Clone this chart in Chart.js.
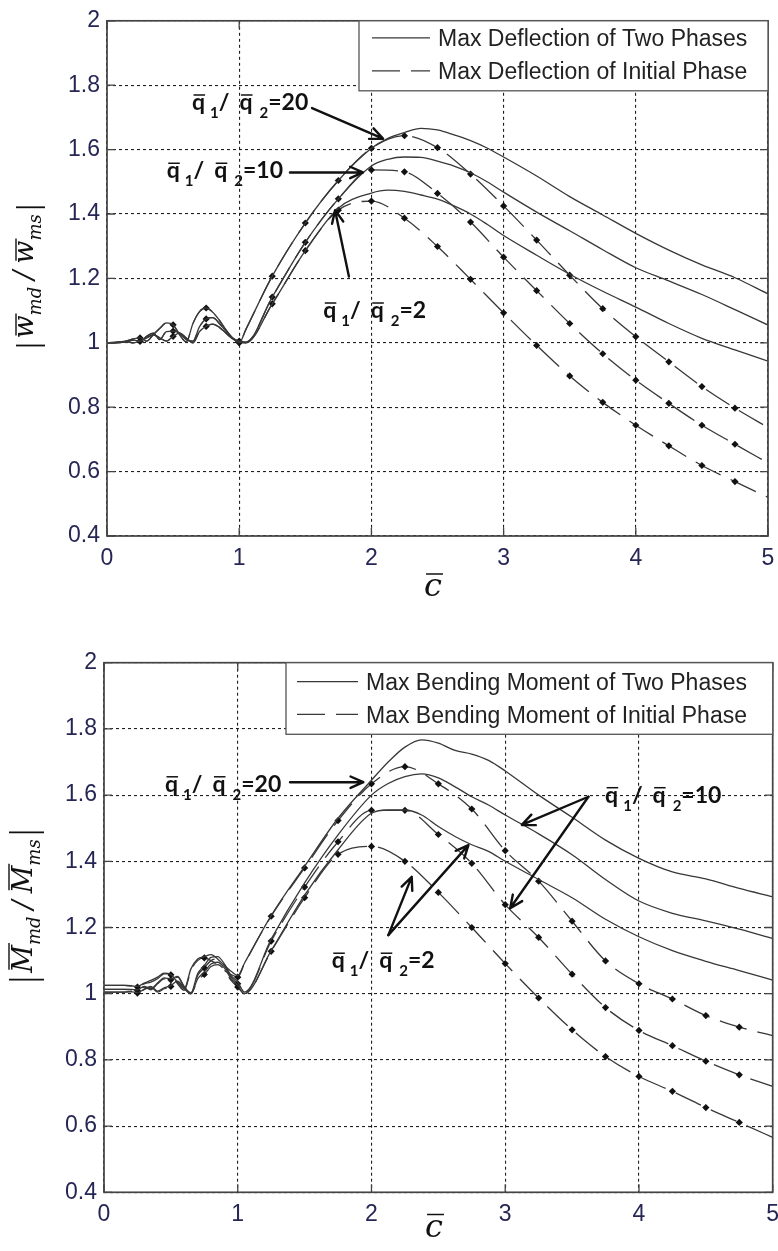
<!DOCTYPE html>
<html>
<head>
<meta charset="utf-8">
<script src="https://cdn.jsdelivr.net/npm/chart.js@4.4.1/dist/chart.umd.min.js"></script>
<style>
  html, body { margin: 0; padding: 0; background: #fff; overflow: hidden; width: 778px; height: 1251px; }
  .panel { position: absolute; left: 0; }
  #p1 { top: 0; }
  #p2 { top: 620px; }
  canvas { display: block; }
</style>
</head>
<body>
<div class="panel" id="p1"><canvas id="c1" width="800" height="610"></canvas></div>
<div class="panel" id="p2"><canvas id="c2" width="800" height="631"></canvas></div>
<script>
// ---- abscissa samples (c-bar) ----
const C_INIT = [0, 0.05, 0.1, 0.15, 0.2, 0.25, 0.3, 0.35, 0.4, 0.45, 0.5, 0.55, 0.6, 0.65, 0.7, 0.75, 0.8, 0.85, 0.9, 0.95, 1, 1.05,
  1.25, 1.5, 1.75, 2, 2.25, 2.5, 2.75, 3, 3.25, 3.5, 3.75, 4, 4.25, 4.5, 4.75, 5];
const C_TWO = [0, 0.05, 0.1, 0.15, 0.2, 0.25, 0.3, 0.35, 0.4, 0.45, 0.5, 0.55, 0.6, 0.65, 0.7, 0.75, 0.8, 0.85, 0.9, 0.95, 1, 1.05,
  1.25, 1.5, 1.75, 2, 2.125, 2.25, 2.375, 2.5, 2.625, 2.75, 2.875, 3, 3.25, 3.5, 3.75, 4, 4.25, 4.5, 4.75, 5];

// ---- deflection ratio, initial phase (q1/q2 = 20, 10, 2) ----
const W_INIT_20 = [1.000, 1.001, 1.003, 1.006, 1.012, 1.015, 1.005, 1.025, 1.045, 1.062, 1.056, 1.025, 1.003, 1.060, 1.097, 1.108, 1.095, 1.070, 1.040, 1.015, 1.000, 1.041,
  1.207, 1.372, 1.504, 1.604, 1.643, 1.606, 1.524, 1.425, 1.319, 1.210, 1.106, 1.019, 0.941, 0.864, 0.797, 0.737];
const W_INIT_10 = [1.000, 1.000, 1.002, 1.004, 1.008, 1.005, 1.020, 1.030, 1.010, 1.035, 1.036, 1.030, 1.010, 1.005, 1.050, 1.074, 1.078, 1.060, 1.035, 1.015, 1.005, 1.002,
  1.142, 1.312, 1.447, 1.537, 1.531, 1.464, 1.375, 1.266, 1.162, 1.060, 0.966, 0.884, 0.812, 0.744, 0.685, 0.627];
const W_INIT_2 = [1.000, 1.000, 1.001, 1.003, 1.000, 1.005, 1.015, 1.025, 1.015, 1.005, 1.020, 1.030, 1.015, 1.000, 1.035, 1.051, 1.058, 1.048, 1.030, 1.012, 1.003, 1.000,
  1.121, 1.286, 1.412, 1.440, 1.387, 1.299, 1.197, 1.093, 0.992, 0.897, 0.815, 0.744, 0.680, 0.619, 0.569, 0.520];

// ---- deflection ratio, two phases ----
const W_TWO_20 = [1.000, 1.001, 1.003, 1.006, 1.012, 1.015, 1.005, 1.025, 1.045, 1.062, 1.056, 1.025, 1.003, 1.060, 1.097, 1.108, 1.095, 1.070, 1.040, 1.015, 1.000, 1.041,
  1.207, 1.372, 1.504, 1.604, 1.635, 1.653, 1.666, 1.661, 1.646, 1.628, 1.605, 1.577, 1.518, 1.454, 1.397, 1.340, 1.288, 1.242, 1.202, 1.152];
const W_TWO_10 = [1.000, 1.000, 1.002, 1.004, 1.008, 1.005, 1.020, 1.030, 1.010, 1.035, 1.036, 1.030, 1.010, 1.005, 1.050, 1.074, 1.078, 1.060, 1.035, 1.015, 1.005, 1.002,
  1.142, 1.312, 1.447, 1.549, 1.570, 1.577, 1.576, 1.564, 1.549, 1.528, 1.500, 1.468, 1.406, 1.348, 1.289, 1.233, 1.192, 1.150, 1.103, 1.055];
const W_TWO_2 = [1.000, 1.000, 1.001, 1.003, 1.000, 1.005, 1.015, 1.025, 1.015, 1.005, 1.020, 1.030, 1.015, 1.000, 1.035, 1.051, 1.058, 1.048, 1.030, 1.012, 1.003, 1.000,
  1.121, 1.286, 1.418, 1.465, 1.474, 1.470, 1.459, 1.446, 1.425, 1.400, 1.368, 1.333, 1.272, 1.213, 1.160, 1.111, 1.060, 1.014, 0.978, 0.943];

// ---- bending moment ratio, initial phase ----
const M_INIT_20 = [1.025, 1.025, 1.025, 1.025, 1.024, 1.020, 1.030, 1.035, 1.045, 1.060, 1.057, 1.030, 1.010, 1.070, 1.100, 1.108, 1.100, 1.088, 1.070, 1.058, 1.050, 1.090,
  1.234, 1.380, 1.523, 1.634, 1.686, 1.634, 1.558, 1.432, 1.340, 1.219, 1.099, 1.030, 0.984, 0.934, 0.899, 0.873];
const M_INIT_10 = [1.013, 1.013, 1.013, 1.013, 1.012, 1.010, 1.020, 1.012, 1.030, 1.045, 1.042, 1.050, 1.020, 1.000, 1.055, 1.078, 1.100, 1.105, 1.085, 1.050, 1.030, 1.002,
  1.159, 1.322, 1.459, 1.554, 1.554, 1.481, 1.394, 1.269, 1.170, 1.059, 0.958, 0.889, 0.843, 0.796, 0.755, 0.720];
const M_INIT_2 = [1.005, 1.005, 1.005, 1.005, 1.006, 1.002, 1.012, 1.020, 1.005, 1.015, 1.022, 1.035, 1.015, 1.000, 1.040, 1.058, 1.082, 1.088, 1.072, 1.040, 1.020, 1.000,
  1.128, 1.290, 1.421, 1.445, 1.400, 1.306, 1.200, 1.091, 0.987, 0.891, 0.810, 0.750, 0.705, 0.656, 0.611, 0.566];

// ---- bending moment ratio, two phases ----
const M_TWO_20 = [1.025, 1.025, 1.025, 1.025, 1.024, 1.022, 1.032, 1.040, 1.050, 1.062, 1.058, 1.035, 1.015, 1.075, 1.105, 1.112, 1.118, 1.105, 1.085, 1.068, 1.055, 1.092,
  1.236, 1.385, 1.530, 1.645, 1.700, 1.745, 1.767, 1.757, 1.735, 1.724, 1.705, 1.673, 1.600, 1.533, 1.464, 1.409, 1.368, 1.347, 1.318, 1.293];
const M_TWO_10 = [1.013, 1.013, 1.013, 1.013, 1.013, 1.012, 1.022, 1.015, 1.032, 1.048, 1.045, 1.052, 1.022, 1.003, 1.060, 1.085, 1.110, 1.112, 1.090, 1.055, 1.035, 1.005,
  1.165, 1.335, 1.480, 1.600, 1.635, 1.656, 1.664, 1.652, 1.625, 1.595, 1.570, 1.540, 1.483, 1.420, 1.345, 1.280, 1.243, 1.220, 1.195, 1.167];
const M_TWO_2 = [1.005, 1.005, 1.005, 1.005, 1.006, 1.003, 1.014, 1.022, 1.008, 1.018, 1.025, 1.038, 1.018, 1.000, 1.045, 1.065, 1.090, 1.095, 1.078, 1.045, 1.025, 1.000,
  1.130, 1.298, 1.435, 1.545, 1.555, 1.555, 1.540, 1.505, 1.475, 1.450, 1.430, 1.400, 1.345, 1.290, 1.225, 1.172, 1.130, 1.098, 1.070, 1.041];

// ---- axes and legend text ----
const X_RANGE = [0, 5];
const Y_RANGE = [0.4, 2];
const X_STEP = 1;
const Y_STEP = 0.2;
const LEGEND_W = ['Max Deflection of Two Phases', 'Max Deflection of Initial Phase'];
const LEGEND_M = ['Max Bending Moment of Two Phases', 'Max Bending Moment of Initial Phase'];
const RATIOS = ['20', '10', '2'];

// ---- drawing helpers ----
const INK = '#383838';
const DASH = [28, 11];

function pts(xs, ys) { return xs.map((x, i) => ({ x: x, y: ys[i] })); }
function onQuarter(c) {
  const v = c.raw && c.raw.x;
  return v > 0 && v < 5 && Math.abs(v * 4 - Math.round(v * 4)) < 1e-9;
}
function solidSet(label, data) {
  return { label: label, data: data, borderColor: INK, borderWidth: 1.3, pointRadius: 0,
    cubicInterpolationMode: 'monotone', fill: false };
}
function dashedSet(label, data) {
  return { label: label, data: data, borderColor: INK, borderWidth: 1.3, borderDash: DASH,
    pointStyle: 'rectRot', pointRadius: c => onQuarter(c) ? 3.6 : 0,
    pointBackgroundColor: '#111', pointBorderColor: '#111', pointBorderWidth: 0,
    cubicInterpolationMode: 'monotone', fill: false };
}

function arrow(ctx, x1, y1, x2, y2) {
  const a = Math.atan2(y2 - y1, x2 - x1), L = 14, s = 0.42;
  ctx.beginPath();
  ctx.moveTo(x1, y1); ctx.lineTo(x2, y2);
  ctx.moveTo(x2 - L * Math.cos(a - s), y2 - L * Math.sin(a - s));
  ctx.lineTo(x2, y2);
  ctx.lineTo(x2 - L * Math.cos(a + s), y2 - L * Math.sin(a + s));
  ctx.stroke();
}

// q1/q2 = value, with bars over q and subscript indices
function ratioLabel(ctx, x, y, value) {
  const big = 'bold 23px Lato', small = 'bold 15px Lato';
  let cx = x;
  const q = () => {
    ctx.font = big;
    ctx.fillText('q', cx, y);
    const w = ctx.measureText('q').width;
    ctx.lineWidth = 1.5;
    ctx.beginPath(); ctx.moveTo(cx + 1.5, y - 15); ctx.lineTo(cx + w, y - 15); ctx.stroke();
    cx += w;
  };
  q(); cx += 5;
  ctx.font = small; ctx.fillText('1', cx, y + 8); cx += ctx.measureText('1').width;
  ctx.font = big; ctx.fillText('/', cx, y); cx += ctx.measureText('/').width + 10;
  q(); cx += 7;
  ctx.font = small; ctx.fillText('2', cx, y + 8); cx += ctx.measureText('2').width;
  ctx.font = big; ctx.fillText('=' + value, cx, y);
}

// |L_md / L_ms| written bottom-to-top
function yTitle(ctx, cx, cy, letter, capital) {
  ctx.save();
  ctx.translate(cx, cy); ctx.rotate(-Math.PI / 2);
  const main = 'italic 27px "DejaVu Serif"', sub = 'italic 18px "DejaVu Serif"';
  ctx.font = main;
  const wl = ctx.measureText(letter).width, wsl = ctx.measureText('/').width;
  const g = 6, gs = 7;
  const b = 2, top = capital ? b - 20 : b - 14;
  ctx.font = sub;
  const wmd = ctx.measureText('md').width, wms = ctx.measureText('ms').width;
  const total = 2 + g + wl + wmd + gs + wsl + gs + wl + wms + g + 2;
  let x = -total / 2;
  ctx.fillStyle = '#111'; ctx.strokeStyle = '#111';
  const bar = () => { ctx.lineWidth = 1.8; ctx.beginPath(); ctx.moveTo(x + 1, top - 3); ctx.lineTo(x + 1, b + 12); ctx.stroke(); x += 2; };
  const sym = (s) => {
    ctx.font = main; ctx.fillText(letter, x, b);
    ctx.lineWidth = 1.4; ctx.beginPath(); ctx.moveTo(x + 3, top - 3); ctx.lineTo(x + wl + 2, top - 3); ctx.stroke();
    x += wl;
    ctx.font = sub; ctx.fillText(s, x, b + 8); x += ctx.measureText(s).width;
  };
  bar(); x += g;
  sym('md'); x += gs;
  ctx.font = main; ctx.fillText('/', x, b); x += wsl + gs;
  sym('ms'); x += g;
  bar();
  ctx.restore();
}

function xTitle(ctx, cx, base) {
  ctx.save();
  ctx.font = 'italic 32px "DejaVu Serif"';
  ctx.fillStyle = '#111'; ctx.strokeStyle = '#111';
  const w = ctx.measureText('c').width;
  ctx.fillText('c', cx - w / 2, base);
  ctx.lineWidth = 1.5;
  ctx.beginPath(); ctx.moveTo(cx - w / 2 + 2, base - 22); ctx.lineTo(cx + w / 2 + 1, base - 22); ctx.stroke();
  ctx.restore();
}

// axes box with inward tick marks
const frame = {
  id: 'frame',
  afterDatasetsDraw(chart) {
    const { ctx, chartArea: a, scales: { x, y } } = chart;
    ctx.save();
    ctx.setLineDash([]);
    ctx.strokeStyle = '#444';
    ctx.lineWidth = 1.3;
    ctx.beginPath();
    x.ticks.forEach(t => {
      const p = x.getPixelForValue(t.value);
      ctx.moveTo(p, a.bottom); ctx.lineTo(p, a.bottom - 8);
      ctx.moveTo(p, a.top); ctx.lineTo(p, a.top + 8);
    });
    y.ticks.forEach(t => {
      const p = y.getPixelForValue(t.value);
      ctx.moveTo(a.left, p); ctx.lineTo(a.left + 8, p);
      ctx.moveTo(a.right, p); ctx.lineTo(a.right - 8, p);
    });
    ctx.stroke();
    ctx.lineWidth = 1.7;
    ctx.strokeRect(a.left, a.top, a.right - a.left, a.bottom - a.top);
    ctx.restore();
  }
};

// legend, axis titles and ratio call-outs
const decor = {
  id: 'decor',
  afterDraw(chart, args, o) {
    const { ctx, chartArea: a, scales: { x, y } } = chart;
    const X = v => x.getPixelForValue(v), Y = v => y.getPixelForValue(v);
    ctx.save();
    // legend
    const L = o.legend;
    const bx = a.right - L.width, by = a.top;
    ctx.fillStyle = '#fff';
    ctx.fillRect(bx, by, L.width, L.height);
    ctx.strokeStyle = '#555'; ctx.lineWidth = 1.3; ctx.setLineDash([]);
    ctx.strokeRect(bx, by, L.width, L.height);
    const items = chart.data.datasets.filter(d => d.label);
    items.forEach((d, i) => {
      ctx.strokeStyle = d.borderColor; ctx.lineWidth = 1.3;
      ctx.setLineDash(d.borderDash || []);
      ctx.beginPath();
      ctx.moveTo(bx + L.sample[0], by + L.rows[i]);
      ctx.lineTo(bx + L.sample[1], by + L.rows[i]);
      ctx.stroke();
      ctx.setLineDash([]);
      ctx.fillStyle = '#222';
      ctx.font = '23px "Liberation Sans"';
      ctx.textBaseline = 'middle';
      ctx.fillText(d.label, bx + L.textX, by + L.rows[i] + 2);
    });
    ctx.textBaseline = 'alphabetic';
    // titles
    yTitle(ctx, a.left + o.yTitle.dx, (a.top + a.bottom) / 2 + o.yTitle.dy, o.yTitle.letter, o.yTitle.capital);
    xTitle(ctx, a.left + o.xTitle.dx, a.bottom + o.xTitle.dy);
    // call-outs
    ctx.fillStyle = '#111'; ctx.strokeStyle = '#111';
    o.notes.forEach(n => ratioLabel(ctx, X(n.at[0]), Y(n.at[1]), n.text));
    ctx.lineCap = 'round'; ctx.lineJoin = 'round';
    o.arrows.forEach(ar => ar.to.forEach(t => { ctx.lineWidth = 2.4; arrow(ctx, X(ar.from[0]), Y(ar.from[1]), X(t[0]), Y(t[1])); }));
    ctx.restore();
  }
};

function scaleSet(yWidth, xHeight, xPad) {
  const grid = { color: '#1e1e1e', lineWidth: 1.1, drawTicks: false };
  const border = { display: false, dash: [3, 3] };
  const font = { family: '"Liberation Sans"', size: 23 };
  return {
    x: { type: 'linear', min: X_RANGE[0], max: X_RANGE[1], grid: grid, border: border,
      ticks: { stepSize: X_STEP, font: font, color: '#262655', padding: xPad, maxRotation: 0,
        callback: v => String(v) },
      afterFit: s => { s.height = xHeight; } },
    y: { type: 'linear', min: Y_RANGE[0], max: Y_RANGE[1], grid: grid, border: border,
      ticks: { stepSize: Y_STEP, font: font, color: '#262655', padding: 7,
        callback: v => String(Math.round(v * 10) / 10) },
      afterFit: s => { s.width = yWidth; } }
  };
}

function build(id, legendText, series, layout, decorOpts) {
  const ds = [
    solidSet(legendText[0], pts(C_TWO, series.two[0])),
    solidSet('', pts(C_TWO, series.two[1])),
    solidSet('', pts(C_TWO, series.two[2])),
    dashedSet(legendText[1], pts(C_INIT, series.init[0])),
    dashedSet('', pts(C_INIT, series.init[1])),
    dashedSet('', pts(C_INIT, series.init[2]))
  ];
  return new Chart(document.getElementById(id), {
    type: 'line',
    data: { datasets: ds },
    options: {
      responsive: false, animation: false, devicePixelRatio: 1, events: [],
      parsing: false,
      layout: { autoPadding: false, padding: layout.padding },
      scales: scaleSet(layout.yWidth, layout.xHeight, layout.xPad),
      plugins: { legend: { display: false }, tooltip: { enabled: false }, decor: decorOpts }
    },
    plugins: [frame, decor]
  });
}

// deflection panel
build('c1', LEGEND_W,
  { two: [W_TWO_20, W_TWO_10, W_TWO_2], init: [W_INIT_20, W_INIT_10, W_INIT_2] },
  { padding: { left: 0, top: 16, right: 32, bottom: 0 }, yWidth: 107, xHeight: 74, xPad: 9 },
  {
    legend: { width: 409, height: 70, sample: [13, 71], rows: [17, 50], textX: 79 },
    yTitle: { letter: 'w', capital: false, dx: -76, dy: -2 },
    xTitle: { dx: 326, dy: 60 },
    notes: [
      { at: [0.643, 1.723], text: RATIOS[0] },
      { at: [0.452, 1.511], text: RATIOS[1] },
      { at: [1.636, 1.077], text: RATIOS[2] }
    ],
    arrows: [
      { from: [1.551, 1.729], to: [[2.088, 1.634]] },
      { from: [1.384, 1.529], to: [[1.936, 1.529]] },
      { from: [1.830, 1.206], to: [[1.725, 1.412]] }
    ]
  });

// bending moment panel
build('c2', LEGEND_M,
  { two: [M_TWO_20, M_TWO_10, M_TWO_2], init: [M_INIT_20, M_INIT_10, M_INIT_2] },
  { padding: { left: 0, top: 42.7, right: 27.3, bottom: 0 }, yWidth: 104, xHeight: 58.7, xPad: 9 },
  {
    legend: { width: 486.7, height: 71.6, sample: [11, 72], rows: [19, 51.6], textX: 80 },
    yTitle: { letter: 'M', capital: true, dx: -74, dy: -21.5 },
    xTitle: { dx: 330, dy: 44.2 },
    notes: [
      { at: [0.456, 1.610], text: RATIOS[0] },
      { at: [3.747, 1.577], text: RATIOS[1] },
      { at: [1.703, 1.077], text: RATIOS[2] }
    ],
    arrows: [
      { from: [1.391, 1.639], to: [[1.939, 1.639]] },
      { from: [3.622, 1.595], to: [[3.124, 1.510], [3.037, 1.258]] },
      { from: [2.126, 1.177], to: [[2.301, 1.353], [2.725, 1.449]] }
    ]
  });
</script>
</body>
</html>
